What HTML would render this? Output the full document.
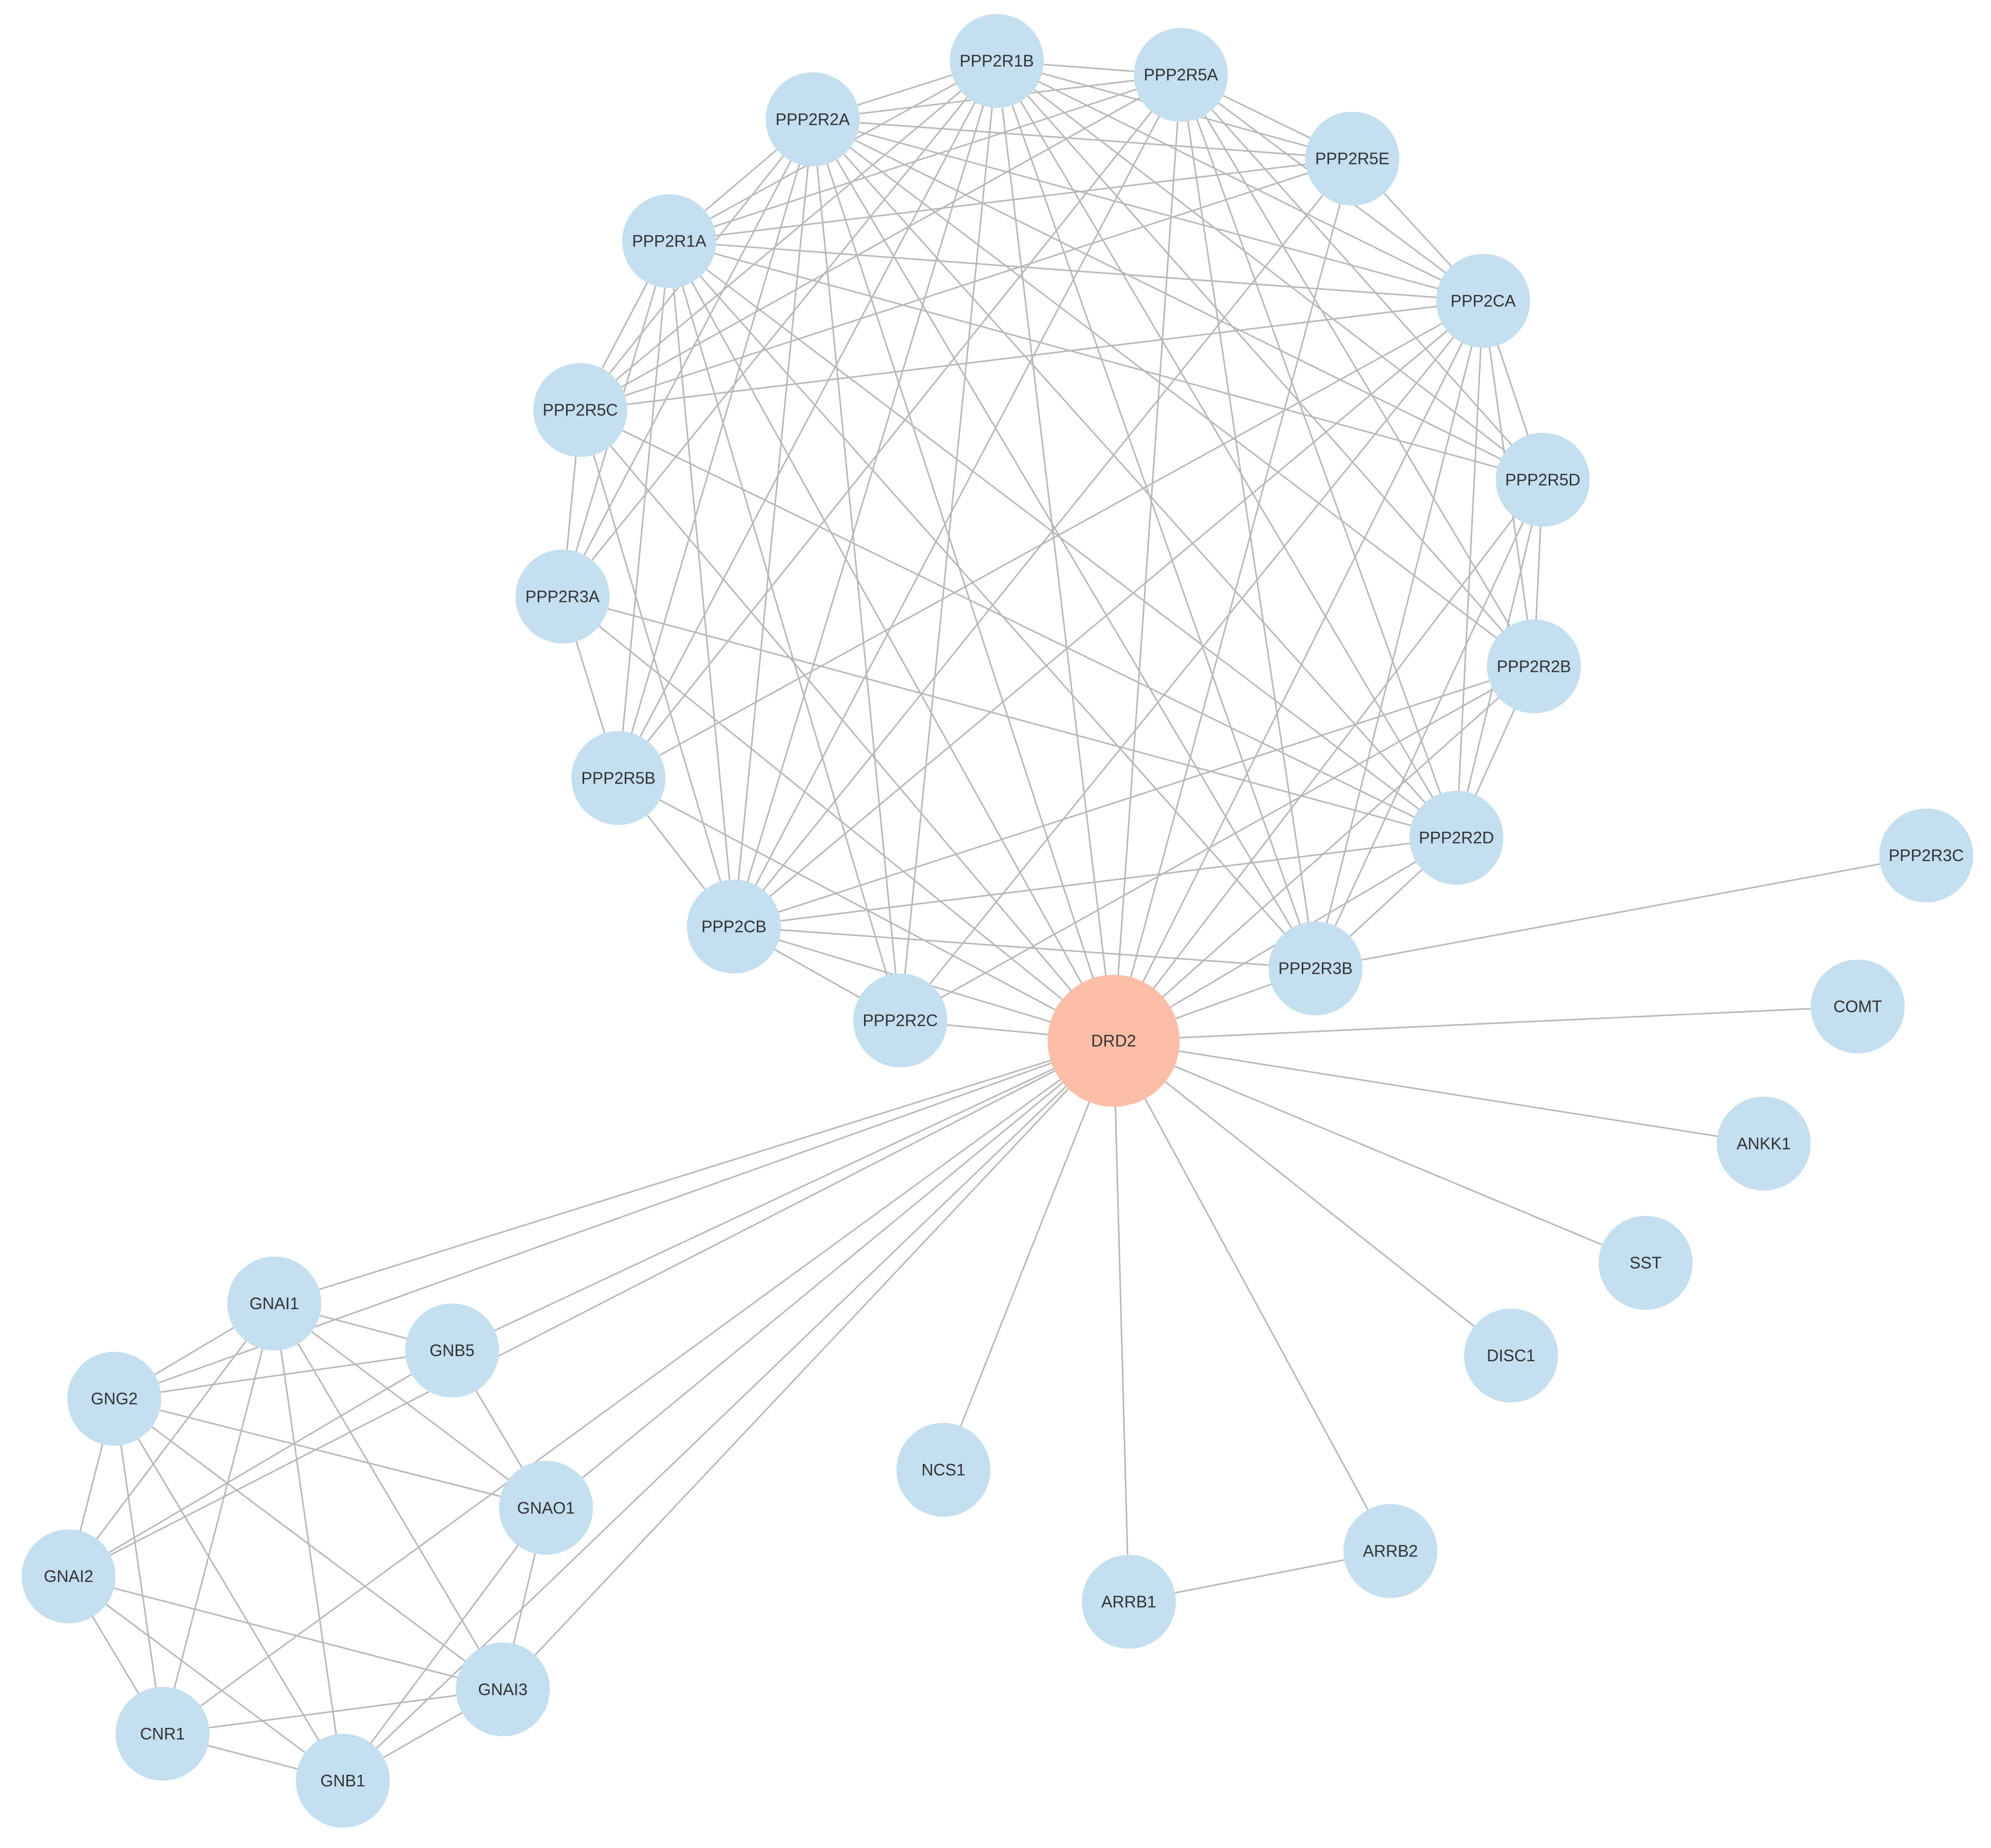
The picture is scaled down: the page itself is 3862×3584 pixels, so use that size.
<!DOCTYPE html>
<html><head><meta charset="utf-8"><style>
html,body{margin:0;padding:0;background:#fff;}
svg{display:block;}
text{font-family:"Liberation Sans",sans-serif;font-size:13px;fill:#333;text-anchor:middle;dominant-baseline:central;}
</style></head><body>
<svg id="g" width="3862" height="3584" viewBox="0 0 1568 1456" preserveAspectRatio="none">
<g id="edges" stroke="#b8b8b8" stroke-width="1.2" fill="none"></g>
<g id="nodes" fill="#c3dff0">
<circle cx="785" cy="48" r="37"/><text x="785" y="48">PPP2R1B</text>
<circle cx="930" cy="59" r="37"/><text x="930" y="59">PPP2R5A</text>
<circle cx="640" cy="94" r="37"/><text x="640" y="94">PPP2R2A</text>
<circle cx="1065" cy="125" r="37"/><text x="1065" y="125">PPP2R5E</text>
<circle cx="527" cy="190" r="37"/><text x="527" y="190">PPP2R1A</text>
<circle cx="1168" cy="237" r="37"/><text x="1168" y="237">PPP2CA</text>
<circle cx="457" cy="323" r="37"/><text x="457" y="323">PPP2R5C</text>
<circle cx="1215" cy="378" r="37"/><text x="1215" y="378">PPP2R5D</text>
<circle cx="443" cy="470" r="37"/><text x="443" y="470">PPP2R3A</text>
<circle cx="1208" cy="525" r="37"/><text x="1208" y="525">PPP2R2B</text>
<circle cx="487" cy="613" r="37"/><text x="487" y="613">PPP2R5B</text>
<circle cx="1147" cy="660" r="37"/><text x="1147" y="660">PPP2R2D</text>
<circle cx="1517" cy="674" r="37"/><text x="1517" y="674">PPP2R3C</text>
<circle cx="578" cy="730" r="37"/><text x="578" y="730">PPP2CB</text>
<circle cx="1036" cy="763" r="37"/><text x="1036" y="763">PPP2R3B</text>
<circle cx="709" cy="804" r="37"/><text x="709" y="804">PPP2R2C</text>
<circle cx="877" cy="820" r="52" fill="#fdbea7"/><text x="877" y="820">DRD2</text>
<circle cx="1463" cy="793" r="37"/><text x="1463" y="793">COMT</text>
<circle cx="1389" cy="901" r="37"/><text x="1389" y="901">ANKK1</text>
<circle cx="1296" cy="995" r="37"/><text x="1296" y="995">SST</text>
<circle cx="1190" cy="1068" r="37"/><text x="1190" y="1068">DISC1</text>
<circle cx="743" cy="1158" r="37"/><text x="743" y="1158">NCS1</text>
<circle cx="1095" cy="1222" r="37"/><text x="1095" y="1222">ARRB2</text>
<circle cx="889" cy="1262" r="37"/><text x="889" y="1262">ARRB1</text>
<circle cx="216" cy="1027" r="37"/><text x="216" y="1027">GNAI1</text>
<circle cx="356" cy="1064" r="37"/><text x="356" y="1064">GNB5</text>
<circle cx="90" cy="1102" r="37"/><text x="90" y="1102">GNG2</text>
<circle cx="430" cy="1188" r="37"/><text x="430" y="1188">GNAO1</text>
<circle cx="54" cy="1242" r="37"/><text x="54" y="1242">GNAI2</text>
<circle cx="396" cy="1331" r="37"/><text x="396" y="1331">GNAI3</text>
<circle cx="128" cy="1366" r="37"/><text x="128" y="1366">CNR1</text>
<circle cx="270" cy="1403" r="37"/><text x="270" y="1403">GNB1</text>
</g>
</svg>
<script>
var P={R1B:[785,48],R5A:[930,59],R2A:[640,94],R5E:[1065,125],R1A:[527,190],CA:[1168,237],R5C:[457,323],R5D:[1215,378],R3A:[443,470],R2B:[1208,525],R5B:[487,613],R2D:[1147,660],R3C:[1517,674],CB:[578,730],R3B:[1036,763],R2C:[709,804],D:[877,820],COMT:[1463,793],ANKK1:[1389,901],SST:[1296,995],DISC1:[1190,1068],NCS1:[743,1158],ARRB2:[1095,1222],ARRB1:[889,1262],GNAI1:[216,1027],GNB5:[356,1064],GNG2:[90,1102],GNAO1:[430,1188],GNAI2:[54,1242],GNAI3:[396,1331],CNR1:[128,1366],GNB1:[270,1403]};
var adj={
R1B:"R2A R5A R5E R1A R5C R3A R5B CB R2C CA R5D R2B R2D R3B D",
R5A:"R2A R5E CA R5D R1A R5C R5B CB R2D R3B D R2B",
R2A:"R5E R1A R5C R3A R5B CB R2C CA R5D R2B R2D R3B D",
R5E:"R1A R5C CB CA D",
R1A:"CA R5C R3A R5B CB R2C R5D R2D R3B D",
CA:"R5C R5D R2B R2D R3B CB R2C R5B D",
R5C:"R3A CB R2D D",
R5D:"R2B R2D R3B D",
R3A:"R5B R2D D",
R2B:"R2D CB R2C D",
R5B:"CB D",
R2D:"CB R3B D",
CB:"R3B R2C D",
R3B:"D R3C",
R2C:"D"};
var E=[],seen={};
for(var k in adj){adj[k].split(" ").forEach(function(n){var key=[k,n].sort().join("|");if(!seen[key]){seen[key]=1;E.push([k,n]);}});}
["COMT","ANKK1","SST","DISC1","NCS1","ARRB1","ARRB2","GNAI1","GNB5","GNG2","GNAO1","GNAI2","GNAI3","GNB1","CNR1"].forEach(function(n){E.push([n,"D"]);});
E.push(["ARRB1","ARRB2"]);
[["GNAI1","GNG2"],["GNAI1","GNB5"],["GNAI1","GNAO1"],["GNAI1","GNAI2"],["GNAI1","CNR1"],["GNAI1","GNB1"],["GNAI1","GNAI3"],["GNB5","GNG2"],["GNB5","GNAI2"],["GNB5","GNAO1"],["GNG2","GNAO1"],["GNG2","GNAI2"],["GNG2","CNR1"],["GNG2","GNB1"],["GNG2","GNAI3"],["GNAI2","GNAI3"],["GNAI2","CNR1"],["GNAI2","GNB1"],["GNAO1","GNB1"],["GNAO1","GNAI3"],["CNR1","GNAI3"],["CNR1","GNB1"],["GNB1","GNAI3"]].forEach(function(e){E.push(e);});
var g=document.getElementById("edges"),s="";
E.forEach(function(e){var a=P[e[0]],b=P[e[1]];s+='<line x1="'+a[0]+'" y1="'+a[1]+'" x2="'+b[0]+'" y2="'+b[1]+'"/>';});
g.innerHTML=s;
</script>
</body></html>
